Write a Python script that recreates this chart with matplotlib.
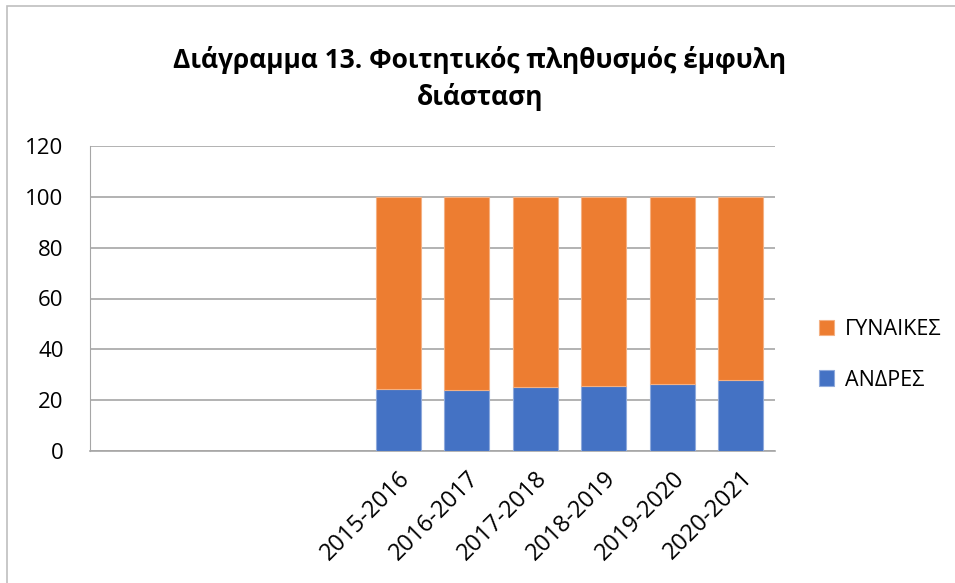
import matplotlib
matplotlib.use("Agg")
import matplotlib.pyplot as plt
from matplotlib.patches import Rectangle

categories = ["", "", "", "", "2015-2016", "2016-2017", "2017-2018", "2018-2019", "2019-2020", "2020-2021"]
men = [0, 0, 0, 0, 24.2, 23.9, 25.1, 25.5, 26.5, 27.8]
women = [0, 0, 0, 0, 75.8, 76.1, 74.9, 74.5, 73.5, 72.2]
series_names = ["ΑΝΔΡΕΣ", "ΓΥΝΑΙΚΕΣ"]
yticks = [0, 20, 40, 60, 80, 100, 120]

plt.rcParams['font.family'] = ['Open Sans', 'DejaVu Sans']

fig = plt.figure(figsize=(9.55, 5.83), dpi=100)
ax = fig.add_axes([90/955, 1-451/583, (775-90)/955, (451-146)/583])

x = list(range(len(categories)))
blue = "#4472C4"
orange = "#ED7D31"
b1 = ax.bar(x, men, width=0.65, color=blue, edgecolor="#8FAADC", linewidth=0.8, label=series_names[0], zorder=3)
b2 = ax.bar(x, women, bottom=men, width=0.65, color=orange, edgecolor="#F4B183", linewidth=0.8, label=series_names[1], zorder=3)

ax.set_xlim(-0.5, len(categories) - 0.5)
ax.set_ylim(0, 120)
ax.set_yticks(yticks)
ax.yaxis.grid(True, color="#A6A6A6", linewidth=1.2, zorder=0)
ax.set_xticks(x)
ax.set_xticklabels(categories, rotation=45, ha="right", rotation_mode="anchor", fontsize=17)
ax.tick_params(axis="y", labelsize=16, length=0, pad=19)
ax.tick_params(axis="x", length=0, pad=11)
for s in ["top", "right"]:
    ax.spines[s].set_visible(False)
ax.spines["left"].set_color("#A6A6A6")
ax.spines["bottom"].set_color("#A6A6A6")
ax.spines["bottom"].set_linewidth(1.2)

handles = [b2, b1]
leg = fig.legend(handles, [series_names[1], series_names[0]], loc="center left",
                 bbox_to_anchor=(800/955, 1-355/583), frameon=False, fontsize=15.5,
                 handlelength=0.7, handleheight=0.7, handletextpad=0.5, labelspacing=1.35)

fig.text(480/955, 1-60/583, "Διάγραμμα 13. Φοιτητικός πληθυσμός έμφυλη", ha="center", va="center",
         fontsize=19, fontweight="bold")
fig.text(480/955, 1-97/583, "διάσταση", ha="center", va="center", fontsize=19, fontweight="bold")

fig.patches.append(Rectangle((7/955, -0.01), 1, 1.0, transform=fig.transFigure, fill=False,
                             edgecolor="#BFBFBF", linewidth=1.2))

fig.savefig("out.png", dpi=100)
